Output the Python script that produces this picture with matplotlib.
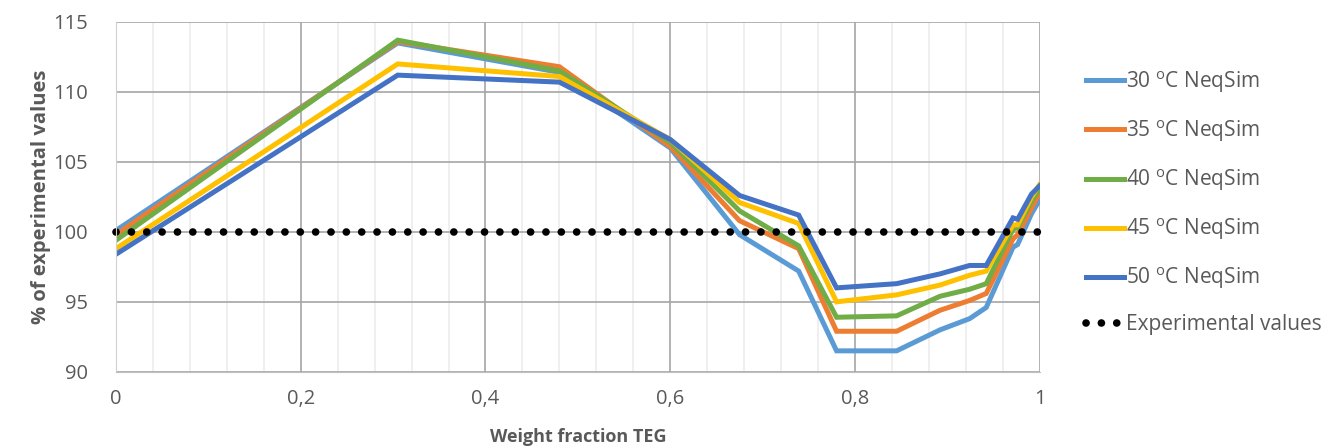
import matplotlib.pyplot as plt
from matplotlib.ticker import MultipleLocator, FuncFormatter

# Datos
x_teg = [0, 0.305, 0.48, 0.6, 0.675, 0.739, 0.78, 0.845, 0.892, 0.924, 0.942, 0.971, 0.976, 0.991, 1.0]
t30 = [100.1, 113.5, 111.4, 106.0, 99.8, 97.2, 91.5, 91.5, 93.0, 93.8, 94.6, 98.9, 99.1, 101.3, 102.3]
t35 = [99.8, 113.6, 111.8, 106.1, 100.8, 98.8, 92.9, 92.9, 94.4, 95.1, 95.6, 99.5, 99.8, 101.7, 102.8]
t40 = [99.4, 113.7, 111.5, 106.4, 101.5, 99.0, 93.9, 94.0, 95.4, 95.9, 96.3, 100.2, 100.3, 102.2, 103.1]
t45 = [98.8, 112.0, 111.1, 106.6, 102.1, 100.6, 95.0, 95.5, 96.2, 96.9, 97.2, 100.5, 100.5, 102.5, 103.4]
t50 = [98.4, 111.2, 110.7, 106.6, 102.6, 101.2, 96.0, 96.3, 97.0, 97.6, 97.6, 101.0, 100.9, 102.7, 103.3]
exp_x = [0, 1]
exp_y = [100, 100]

series = [
    ("30 $^{\\mathregular{o}}$C NeqSim", t30, "#5B9BD5"),
    ("35 $^{\\mathregular{o}}$C NeqSim", t35, "#ED7D31"),
    ("40 $^{\\mathregular{o}}$C NeqSim", t40, "#70AD47"),
    ("45 $^{\\mathregular{o}}$C NeqSim", t45, "#FFC000"),
    ("50 $^{\\mathregular{o}}$C NeqSim", t50, "#4472C4"),
]

plt.rcParams['font.family'] = ['Open Sans', 'DejaVu Sans']
gris = "#595959"

fig = plt.figure(figsize=(13.28, 4.48), dpi=100)
ax = fig.add_axes([0.0873, 0.170, 0.6957, 0.781])

for nombre, vals, color in series:
    ax.plot(x_teg, vals, color=color, lw=3.6, label=nombre, solid_joinstyle='miter')

ax.plot(exp_x, exp_y, color='black', lw=5.5, linestyle=(0, (0.01, 2.0)),
        dash_capstyle='round', label='Experimental values', clip_on=False)

ax.set_xlim(0, 1)
ax.set_ylim(90, 115)
ax.xaxis.set_major_locator(MultipleLocator(0.2))
ax.xaxis.set_minor_locator(MultipleLocator(0.04))
ax.yaxis.set_major_locator(MultipleLocator(5))
ax.xaxis.set_major_formatter(FuncFormatter(lambda v, p: ("%g" % round(v, 2)).replace('.', ',')))

ax.grid(which='major', color='#a6a6a6', lw=1.2)
ax.grid(which='minor', axis='x', color='#ececec', lw=1.2)
ax.set_axisbelow(True)
for s in ['top', 'right']:
    ax.spines[s].set_visible(False)
ax.spines['left'].set_color('#d0d0d0')
ax.spines['bottom'].set_color('#bfbfbf')
ax.tick_params(which='both', length=0, labelsize=14.5, colors=gris)
ax.tick_params(axis='y', pad=20)
ax.tick_params(axis='x', pad=12)

ax.set_xlabel("Weight fraction TEG", fontsize=13, fontweight='bold', color=gris, labelpad=14)
ax.set_ylabel("% of experimental values", fontsize=14.5, fontweight='bold', color=gris, labelpad=2)

leg = ax.legend(loc='center left', bbox_to_anchor=(1.03, 0.485), frameon=False,
                fontsize=15, labelspacing=1.12, handlelength=1.8, handletextpad=0.1)
for t in leg.get_texts():
    t.set_color(gris)

fig.savefig("out.png", dpi=100)
